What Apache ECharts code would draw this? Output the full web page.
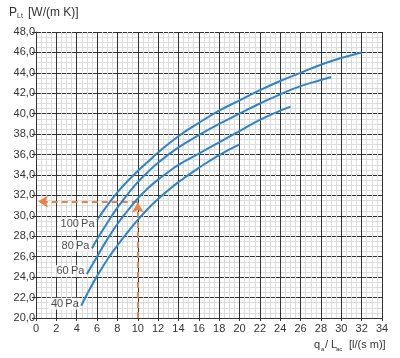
<!DOCTYPE html>
<html><head><meta charset="utf-8">
<script src="https://cdn.jsdelivr.net/npm/echarts@6/dist/echarts.min.js"></script>
<style>html,body{margin:0;padding:0;background:#fff}#c{width:400px;height:358px}</style>
</head><body><div id="c"></div>
<script>
// ---- data ----
const seriesNames = ['100\u2009Pa', '80\u2009Pa', '60\u2009Pa', '40\u2009Pa'];
const pa100 = [[6.0,29.6],[7,31.0],[8,32.3],[9,33.4],[10,34.4],[11,35.3],[12,36.2],[14,37.8],[16,39.1],[18,40.3],[20,41.3],[22,42.3],[24,43.2],[26,44.0],[28,44.8],[30,45.45],[32,46.0]];
const pa80  = [[5.5,26.8],[6,27.7],[7,29.3],[8,30.8],[9,32.1],[10,33.3],[11,34.3],[12,35.2],[14,36.7],[16,37.9],[18,39.0],[20,40.0],[22,41.0],[24,41.9],[26,42.7],[28,43.3],[29,43.6]];
const pa60  = [[5.0,24.3],[6,26.0],[7,27.7],[8,29.2],[9,30.5],[10,31.7],[11,32.7],[12,33.55],[13,34.3],[14,35.0],[16,36.1],[18,37.2],[20,38.3],[22,39.4],[24,40.3],[25,40.7]];
const pa40  = [[4.45,21.2],[5,22.3],[6,24.1],[7,25.7],[8,27.1],[9,28.4],[10,29.6],[11,30.7],[12,31.65],[13,32.5],[14,33.3],[16,34.7],[18,35.95],[20,37.0]];
const xTicks = [0,2,4,6,8,10,12,14,16,18,20,22,24,26,28,30,32,34];
const yTicks = [20,22,24,26,28,30,32,34,36,38,40,42,44,46,48];
const exampleX = 10;      // reading example: flow
const exampleY = 31.4;    // reading example: result
const arrowLeftX = 0.2;

// ---- style ----
const FONT = 'Liberation Sans, Arial, sans-serif';
const BLUE = '#2d84cc';
const ORANGE = '#ee7f45';
const labelOffsets = [[0,4],[0,-3],[0,-3],[0,-2]];
const allData = [pa100, pa80, pa60, pa40];

const chart = echarts.init(document.getElementById('c'), null, {renderer: 'canvas'});

const curveSeries = allData.map((d, i) => ({
  type: 'line',
  name: seriesNames[i],
  smooth: true,
  showSymbol: false,
  lineStyle: {color: BLUE, width: 2},
  z: 5,
  data: d
}));

const labelSeries = {
  type: 'scatter',
  symbolSize: 1,
  itemStyle: {color: 'rgba(0,0,0,0)'},
  silent: true,
  z: 7,
  data: allData.map((d, i) => ({
    value: d[0],
    label: {
      show: true, position: 'left', distance: 1, offset: labelOffsets[i],
      formatter: seriesNames[i], fontFamily: FONT, fontSize: 11, color: '#1a1a1a',
      backgroundColor: '#fff', padding: [1, 1, 0, 2]
    }
  }))
};

const gridMajor = {show: true, lineStyle: {color: '#333', width: 1}};
const gridMinor = {show: true, lineStyle: {color: '#dcdcdc', width: 1}};

chart.setOption({
  animation: false,
  backgroundColor: '#fff',
  grid: {left: 36, right: 18, top: 32, bottom: 40, containLabel: false},
  xAxis: {
    type: 'value', min: xTicks[0], max: xTicks[xTicks.length-1], interval: 2,
    axisLine: {show: true, lineStyle: {color: '#333', width: 1}},
    axisTick: {show: true, length: 3, lineStyle: {color: '#333'}},
    minorTick: {show: true, splitNumber: 4, length: 0},
    axisLabel: {fontFamily: FONT, fontSize: 11, color: '#333', margin: 5},
    splitLine: gridMajor,
    minorSplitLine: gridMinor
  },
  yAxis: {
    type: 'value', min: yTicks[0], max: yTicks[yTicks.length-1], interval: 2,
    axisLine: {show: true, lineStyle: {color: '#333', width: 1}},
    axisTick: {show: true, length: 4, lineStyle: {color: '#333'}},
    minorTick: {show: true, splitNumber: 4, length: 0},
    axisLabel: {fontFamily: FONT, fontSize: 11, color: '#333', margin: 1,
      formatter: v => v.toFixed(1).replace('.', ',')},
    splitLine: gridMajor,
    minorSplitLine: gridMinor
  },
  graphic: [
    {type: 'text', left: 9, top: 7, style: {text: 'P', font: '12px ' + FONT, fill: '#333'}},
    {type: 'text', left: 17, top: 13, style: {text: 'Lt', font: '7px ' + FONT, fill: '#333'}},
    {type: 'text', left: 28, top: 7, style: {text: '[W/(m K)]', font: '12px ' + FONT, fill: '#333'}},
    {type: 'text', left: 314, top: 339, style: {text: 'q', font: '11px ' + FONT, fill: '#333'}},
    {type: 'text', left: 321, top: 346, style: {text: 'a', font: '6px ' + FONT, fill: '#333'}},
    {type: 'text', left: 325, top: 339, style: {text: '/ L', font: '11px ' + FONT, fill: '#333'}},
    {type: 'text', left: 336, top: 346, style: {text: 'ac', font: '6px ' + FONT, fill: '#333'}},
    {type: 'text', left: 349, top: 339, style: {text: '[l/(s m)]', font: '11px ' + FONT, fill: '#333'}}
  ],
  series: [
    ...curveSeries,
    labelSeries,
    {
      type: 'line', data: [], silent: true, z: 6,
      markLine: {
        silent: true, animation: false,
        symbol: ['none', 'arrow'], symbolSize: [9, 10],
        label: {show: false},
        lineStyle: {color: ORANGE, width: 2, type: [6, 4]},
        emphasis: {disabled: true},
        data: [
          [{coord: [exampleX, yTicks[0]]}, {coord: [exampleX, exampleY - 0.1]}],
          [{coord: [exampleX, exampleY]}, {coord: [arrowLeftX, exampleY]}]
        ]
      }
    }
  ]
});
</script>
</body></html>
